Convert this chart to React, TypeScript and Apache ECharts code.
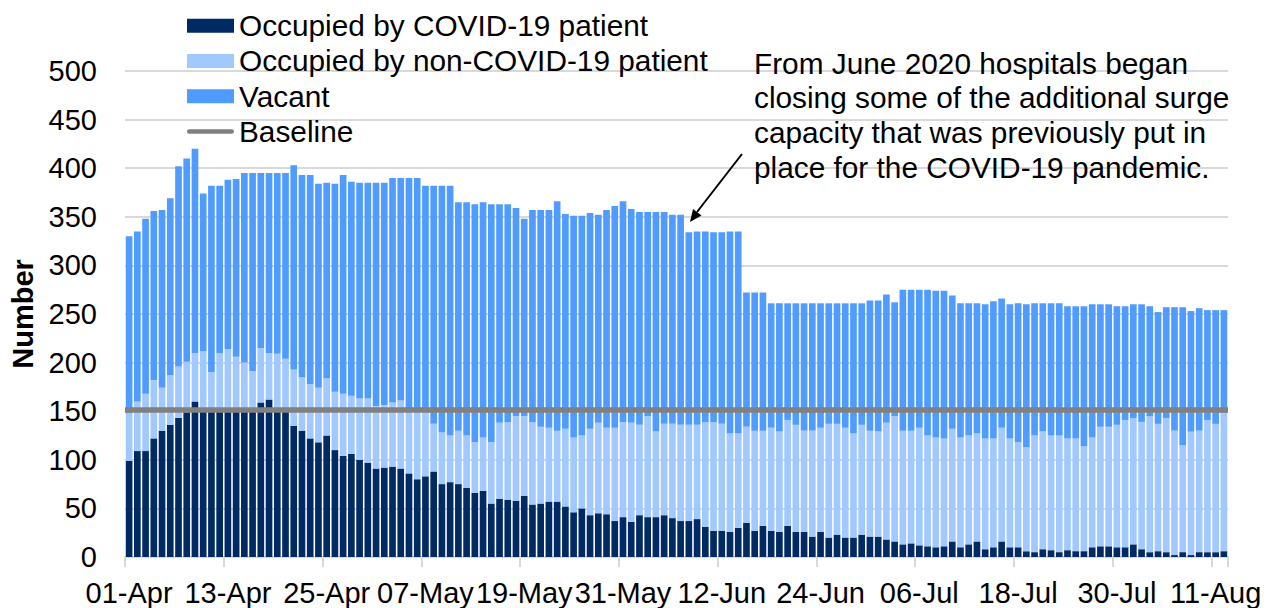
import React, { useEffect, useRef } from "react";
import * as echarts from "echarts";

const categories: string[] = [
  "01-Apr","02-Apr","03-Apr","04-Apr","05-Apr","06-Apr","07-Apr","08-Apr","09-Apr","10-Apr",
  "11-Apr","12-Apr","13-Apr","14-Apr","15-Apr","16-Apr","17-Apr","18-Apr","19-Apr","20-Apr",
  "21-Apr","22-Apr","23-Apr","24-Apr","25-Apr","26-Apr","27-Apr","28-Apr","29-Apr","30-Apr",
  "01-May","02-May","03-May","04-May","05-May","06-May","07-May","08-May","09-May","10-May",
  "11-May","12-May","13-May","14-May","15-May","16-May","17-May","18-May","19-May","20-May",
  "21-May","22-May","23-May","24-May","25-May","26-May","27-May","28-May","29-May","30-May","31-May",
  "01-Jun","02-Jun","03-Jun","04-Jun","05-Jun","06-Jun","07-Jun","08-Jun","09-Jun","10-Jun",
  "11-Jun","12-Jun","13-Jun","14-Jun","15-Jun","16-Jun","17-Jun","18-Jun","19-Jun","20-Jun",
  "21-Jun","22-Jun","23-Jun","24-Jun","25-Jun","26-Jun","27-Jun","28-Jun","29-Jun","30-Jun",
  "01-Jul","02-Jul","03-Jul","04-Jul","05-Jul","06-Jul","07-Jul","08-Jul","09-Jul","10-Jul",
  "11-Jul","12-Jul","13-Jul","14-Jul","15-Jul","16-Jul","17-Jul","18-Jul","19-Jul","20-Jul",
  "21-Jul","22-Jul","23-Jul","24-Jul","25-Jul","26-Jul","27-Jul","28-Jul","29-Jul","30-Jul","31-Jul",
  "01-Aug","02-Aug","03-Aug","04-Aug","05-Aug","06-Aug","07-Aug","08-Aug","09-Aug","10-Aug",
  "11-Aug","12-Aug",
];

const covid: number[] = [
  99,109,109,122,130,136,143,149,160,151,
  152,152,151,151,152,152,159,162,151,150,
  135,130,122,118,125,110,104,106,100,97,
  91,92,93,91,86,80,83,88,75,77,
  75,71,66,68,55,60,59,58,63,54,
  55,57,57,52,46,50,43,45,44,37,
  41,36,43,41,41,43,40,37,37,39,
  31,27,27,26,30,35,27,32,27,26,
  32,26,26,21,26,20,23,20,20,23,
  21,21,18,16,13,14,12,11,10,11,
  16,10,13,16,8,10,16,10,10,6,
  5,8,7,5,7,6,6,10,11,11,
  10,10,13,8,5,6,5,2,5,2,
  5,5,5,6,
];

const nonCovid: number[] = [
  49,51,59,60,44,51,53,52,50,61,
  38,58,63,55,48,39,56,48,58,54,
  58,55,56,56,59,60,64,60,63,66,
  64,64,66,70,65,71,67,49,53,48,
  55,54,52,55,63,78,80,87,82,85,
  79,76,73,80,77,75,89,93,89,96,
  98,102,93,104,88,94,97,99,99,97,
  108,112,110,101,97,99,103,98,106,103,
  109,110,104,109,107,117,114,113,107,113,
  109,108,120,129,117,116,121,114,113,111,
  116,113,112,111,114,112,117,112,108,107,
  120,121,118,120,115,116,108,113,123,123,
  126,131,130,131,140,131,138,128,110,127,
  125,136,132,142,
];

const vacant: number[] = [
  182,175,180,174,183,182,206,209,210,162,
  192,172,174,183,195,204,180,185,186,191,
  210,208,215,210,201,214,225,220,222,222,
  230,229,231,229,239,239,232,245,254,257,
  235,240,245,242,245,225,224,214,203,218,
  223,224,236,221,228,226,222,214,224,228,
  227,220,219,210,226,218,215,216,198,199,
  196,195,197,208,208,138,142,142,128,132,
  120,125,131,131,128,124,124,128,134,125,
  134,135,132,117,145,145,142,150,151,152,
  137,138,136,134,138,141,133,138,143,147,
  136,132,136,136,136,136,144,137,126,126,
  122,117,117,121,113,115,114,127,142,124,
  126,113,117,106,
];

const BASELINE = 152;

const seriesNames = [
  "Occupied by COVID-19 patient",
  "Occupied by non-COVID-19 patient",
  "Vacant",
  "Baseline",
];

const annotationLines = [
  "From June 2020 hospitals began",
  "closing some of the additional surge",
  "capacity that was previously put in",
  "place for the COVID-19 pandemic.",
];

const FONT = "'Liberation Sans', Arial, sans-serif";
const C_COVID = "#002A64";
const C_NON = "#A1C8FF";
const C_VAC = "#4F9BFF";
const C_BASE = "#808080";

export default function App() {
  const ref = useRef<HTMLDivElement>(null);

  useEffect(() => {
    document.body.style.margin = "0";
    if (!ref.current) return;
    const chart = echarts.init(ref.current, null, { renderer: "svg" });
    const option: any = {
      animation: false,
      backgroundColor: "#ffffff",
      textStyle: { fontFamily: FONT },
      grid: { left: 120, right: 46, top: 71, bottom: 51, containLabel: false },
      legend: {
        orient: "vertical",
        left: 182,
        top: 3,
        itemWidth: 47,
        itemHeight: 14,
        itemGap: 0,
        selectedMode: false,
        textStyle: { fontFamily: FONT, fontSize: 29.8, color: "#000", lineHeight: 35.3 },
        data: [
          { name: seriesNames[0], icon: "rect" },
          { name: seriesNames[1], icon: "rect" },
          { name: seriesNames[2], icon: "rect" },
          {
            name: seriesNames[3],
            icon: "path://M2.5,0 H48.5 A2.5,2.5 0 0 1 48.5,5 H2.5 A2.5,2.5 0 0 1 2.5,0 Z",
            itemStyle: { color: C_BASE },
          },
        ],
      },
      xAxis: {
        type: "category",
        data: categories,
        boundaryGap: true,
        axisLine: { show: true, lineStyle: { color: "#D9D9D9", width: 2 } },
        axisTick: { show: true, interval: 11, length: 10, lineStyle: { color: "#D9D9D9", width: 2 } },
        axisLabel: {
          interval: 11,
          fontFamily: FONT,
          fontSize: 29,
          color: "#000",
          margin: 21,
        },
        splitLine: { show: false },
      },
      yAxis: {
        type: "value",
        min: 0,
        max: 500,
        interval: 50,
        name: "Number",
        nameLocation: "middle",
        nameRotate: 90,
        nameGap: 88,
        nameTextStyle: { fontFamily: FONT, fontSize: 29, fontWeight: "bold", color: "#000" },
        axisLine: { show: false },
        axisTick: { show: false },
        axisLabel: { fontFamily: FONT, fontSize: 29, color: "#000", margin: 28 },
        splitLine: { show: true, lineStyle: { color: "#D9D9D9", width: 2 } },
      },
      series: [
        {
          name: seriesNames[0],
          type: "bar",
          stack: "beds",
          data: covid,
          barCategoryGap: "19%",
          itemStyle: { color: C_COVID },
        },
        {
          name: seriesNames[1],
          type: "bar",
          stack: "beds",
          data: nonCovid,
          barCategoryGap: "19%",
          itemStyle: { color: C_NON },
        },
        {
          name: seriesNames[2],
          type: "bar",
          stack: "beds",
          data: vacant,
          barCategoryGap: "19%",
          itemStyle: { color: C_VAC },
        },
        {
          name: seriesNames[3],
          type: "line",
          data: [],
          itemStyle: { color: C_BASE },
          lineStyle: { color: C_BASE, width: 5 },
          markLine: {
            silent: true,
            symbol: "none",
            label: { show: false },
            lineStyle: { color: C_BASE, width: 5.5, type: "solid" },
            data: [{ yAxis: BASELINE }],
          },
        },
      ],
      graphic: [
        {
          type: "text",
          x: 754,
          y: 46,
          style: {
            text: annotationLines.join("\n"),
            fontFamily: FONT,
            fontSize: 29.8,
            lineHeight: 34.6,
            fill: "#000",
            align: "left",
            verticalAlign: "top",
          },
          z: 100,
        },
        {
          type: "line",
          shape: { x1: 742, y1: 154, x2: 697, y2: 212 },
          style: { stroke: "#000", lineWidth: 2 },
          z: 100,
        },
        {
          type: "polygon",
          shape: { points: [[690, 222], [701.5, 215.5], [693, 209]] },
          style: { fill: "#000" },
          z: 100,
        },
      ],
    };
    chart.setOption(option);
    return () => chart.dispose();
  }, []);

  return (
    <div
      ref={ref}
      style={{ position: "absolute", left: 0, top: 0, width: 1274, height: 608 }}
    />
  );
}
